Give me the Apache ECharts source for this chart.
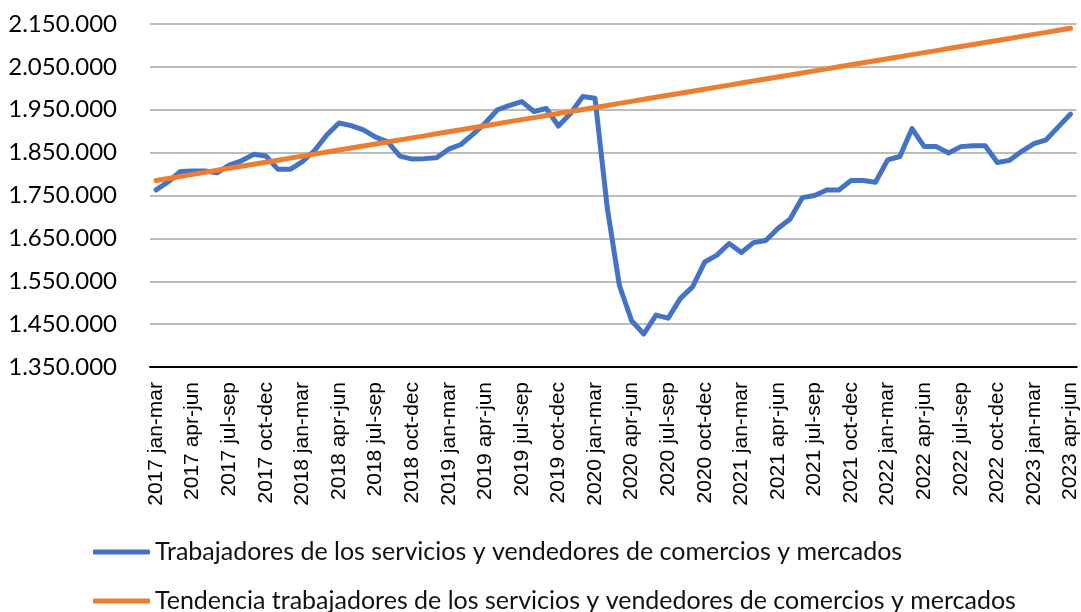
<!DOCTYPE html>
<html>
<head>
<meta charset="utf-8">
<script src="https://cdn.jsdelivr.net/npm/echarts@6/dist/echarts.min.js"></script>
<style>
	html, body { margin: 0; padding: 0; background: #fff; }
	#chart { width: 1081px; height: 612px; }
</style>
</head>
<body>
<div id="chart"></div>
<script>
	// rolling quarters, one per month
	var years = ['2017', '2018', '2019', '2020', '2021', '2022', '2023'];
	var months = ['jan', 'feb', 'mar', 'apr', 'may', 'jun', 'jul', 'aug', 'sep', 'oct', 'nov', 'dec'];
	var lastMonthIndex = 3; // 2023 apr-jun

	var trabajadores = [
		1763000, 1782000, 1806000, 1807000, 1807000, 1803000, 1821000, 1831000, 1846000, 1842000,
		1811000, 1811000, 1829000, 1855000, 1891000, 1919000, 1913000, 1903000, 1886000, 1875000,
		1842000, 1835000, 1836000, 1838000, 1858000, 1869000, 1893000, 1919000, 1950000, 1960000,
		1969000, 1946000, 1953000, 1912000, 1942000, 1981000, 1977000, 1722000, 1540000, 1458000,
		1427000, 1471000, 1464000, 1510000, 1537000, 1595000, 1611000, 1638000, 1617000, 1640000,
		1645000, 1673000, 1695000, 1745000, 1750000, 1763000, 1763000, 1785000, 1785000, 1781000,
		1833000, 1841000, 1906000, 1864000, 1864000, 1849000, 1864000, 1866000, 1866000, 1827000,
		1832000, 1853000, 1871000, 1880000, 1910000, 1940000
	];

	var tendencia = [
		1785000, 1789700, 1794500, 1799200, 1803900, 1808700, 1813400, 1818100, 1822900, 1827600,
		1832300, 1837100, 1841800, 1846500, 1851300, 1856000, 1860700, 1865500, 1870200, 1874900,
		1879700, 1884400, 1889100, 1893900, 1898600, 1903300, 1908100, 1912800, 1917500, 1922300,
		1927000, 1931700, 1936500, 1941200, 1945900, 1950700, 1955400, 1960100, 1964900, 1969600,
		1974300, 1979100, 1983800, 1988500, 1993300, 1998000, 2002700, 2007500, 2012200, 2016900,
		2021700, 2026400, 2031100, 2035900, 2040600, 2045300, 2050100, 2054800, 2059500, 2064300,
		2069000, 2073700, 2078500, 2083200, 2087900, 2092700, 2097400, 2102100, 2106900, 2111600,
		2116300, 2121100, 2125800, 2130500, 2135300, 2140000
	];

	var yMin = 1350000, yMax = 2150000, yStep = 100000;

	var categories = [];
	for (var y = 0; y < years.length; y++) {
		for (var m = 0; m < 12; m++) {
			if (y == years.length - 1 && m > lastMonthIndex) break;
			categories.push(years[y] + ' ' + months[m] + '-' + months[(m + 2) % 12]);
		}
	}

	function fmt(v) {
		return String(v).replace(/\B(?=(\d{3})+(?!\d))/g, '.');
	}

	var chart = echarts.init(document.getElementById('chart'));
	chart.setOption({
		animation: false,
		grid: { left: 150, top: 24, width: 933, height: 343, containLabel: false },
		legend: {
			orient: 'vertical',
			left: 88,
			top: 534,
			height: 100,
			itemWidth: 57,
			itemHeight: 5,
			itemGap: 23,
			icon: 'roundRect',
			textStyle: { fontFamily: 'Lato', fontSize: 25, color: '#111', lineHeight: 26 },
			data: [
				'Trabajadores de los servicios y vendedores de comercios y mercados',
				'Tendencia trabajadores de los servicios y vendedores de comercios y mercados'
			]
		},
		xAxis: {
			type: 'category',
			data: categories,
			boundaryGap: true,
			axisLine: { lineStyle: { color: '#000', width: 2 } },
			axisTick: { show: false },
			axisLabel: {
				interval: 2,
				rotate: 90,
				margin: 15,
				fontFamily: 'Liberation Sans',
				fontSize: 21,
				color: '#000'
			}
		},
		yAxis: {
			type: 'value',
			min: yMin,
			max: yMax,
			interval: yStep,
			axisLine: { show: false },
			axisTick: { show: false },
			splitLine: { lineStyle: { color: '#a6a6a6', width: 1.5 } },
			axisLabel: {
				margin: 33,
				fontFamily: 'Lato',
				fontSize: 24,
				color: '#000',
				formatter: fmt
			}
		},
		series: [{
			name: 'Trabajadores de los servicios y vendedores de comercios y mercados',
			type: 'line',
			data: trabajadores,
			symbol: 'none',
			color: '#4472c4',
			lineStyle: { width: 5, color: '#4472c4', cap: 'round', join: 'round' }
		}, {
			name: 'Tendencia trabajadores de los servicios y vendedores de comercios y mercados',
			type: 'line',
			data: tendencia,
			symbol: 'none',
			color: '#ed7d31',
			lineStyle: { width: 5, color: '#ed7d31', cap: 'round' }
		}]
	});
</script>
</body>
</html>
